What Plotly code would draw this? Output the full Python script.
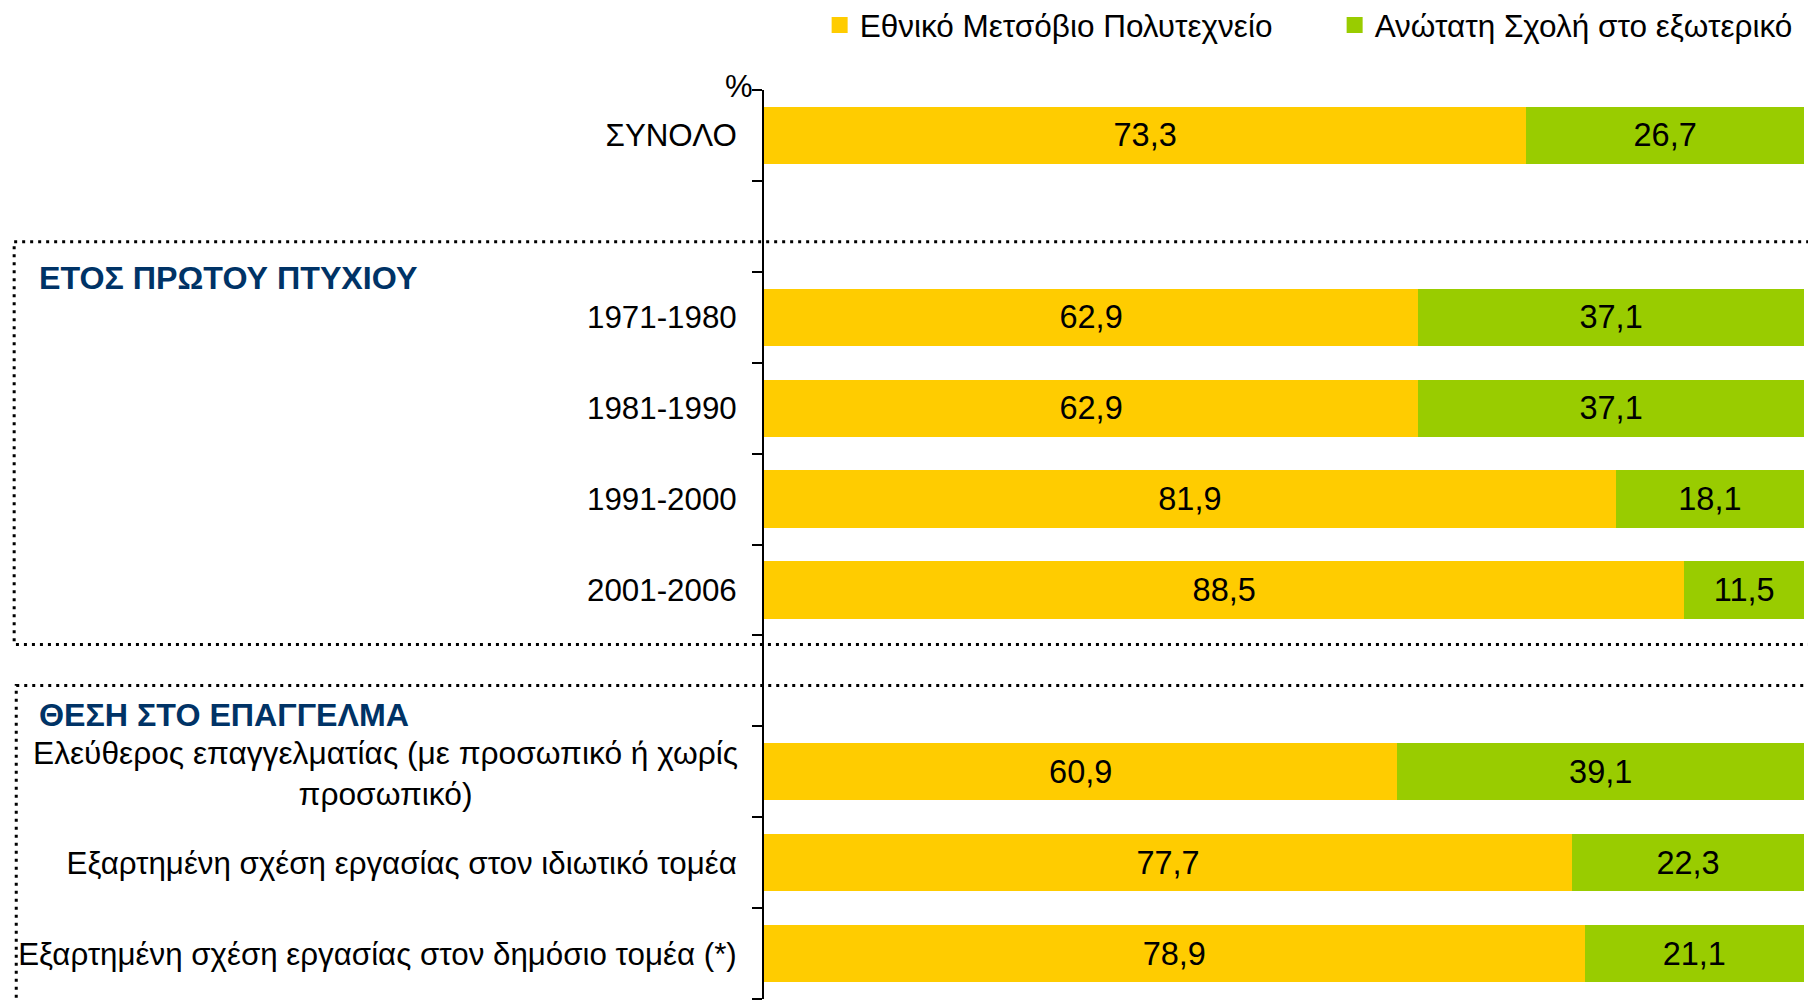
import plotly.graph_objects as go

# ---- data ----
categories = [
    "ΣΥΝΟΛΟ",
    " ",
    "1971-1980",
    "1981-1990",
    "1991-2000",
    "2001-2006",
    "  ",
    "Ελεύθερος επαγγελματίας (με προσωπικό ή χωρίς προσωπικό)",
    "Εξαρτημένη σχέση εργασίας στον ιδιωτικό τομέα",
    "Εξαρτημένη σχέση εργασίας στον δημόσιο τομέα (*)",
]
tick_labels = [
    "ΣΥΝΟΛΟ",
    "",
    "1971-1980",
    "1981-1990",
    "1991-2000",
    "2001-2006",
    "",
    "",
    "Εξαρτημένη σχέση εργασίας στον ιδιωτικό τομέα",
    "Εξαρτημένη σχέση εργασίας στον δημόσιο τομέα (*)",
]
two_line_label = "Ελεύθερος επαγγελματίας (με προσωπικό ή χωρίς<br>προσωπικό)"
series_names = ["Εθνικό Μετσόβιο Πολυτεχνείο", "Ανώτατη Σχολή στο εξωτερικό"]
emp_values = [73.3, None, 62.9, 62.9, 81.9, 88.5, None, 60.9, 77.7, 78.9]
abroad_values = [26.7, None, 37.1, 37.1, 18.1, 11.5, None, 39.1, 22.3, 21.1]
group_titles = ["ΕΤΟΣ ΠΡΩΤΟΥ ΠΤΥΧΙΟΥ", "ΘΕΣΗ ΣΤΟ ΕΠΑΓΓΕΛΜΑ"]

FONT = "Liberation Sans, Arial, sans-serif"
colors = ["#FFCC00", "#99CC00"]
LABEL_SIZE = 31.3

fig = go.Figure()
for name, vals, col in zip(series_names, [emp_values, abroad_values], colors):
    fig.add_trace(go.Bar(
        y=categories, x=vals, name=name, orientation="h",
        marker=dict(color=col, line=dict(width=0)),
        texttemplate="%{x:.1f}", textposition="inside",
        insidetextanchor="middle", constraintext="none",
        textfont=dict(family=FONT, size=32.5, color="black"),
        hoverinfo="skip", showlegend=False, legendgroup=name,
    ))
# legend entries (square swatches)
for name, col in zip(series_names, colors):
    fig.add_trace(go.Scatter(
        x=[None], y=[None], mode="markers", name=name, legendgroup=name,
        marker=dict(symbol="square", size=20, color=col),
        hoverinfo="skip", showlegend=True,
    ))

fig.update_layout(
    width=1808, height=994,
    margin=dict(l=756, r=12, t=82, b=3, autoexpand=False),
    barmode="stack", bargap=0.37,
    separators=",.",
    plot_bgcolor="white", paper_bgcolor="white",
    font=dict(family=FONT, size=31, color="black"),
    legend=dict(
        orientation="h", x=0.0535, xanchor="left", y=1.0715, yanchor="middle",
        font=dict(family=FONT, size=31.5, color="black"),
        bgcolor="rgba(0,0,0,0)", traceorder="normal",
        entrywidth=470, entrywidthmode="pixels", itemwidth=30,
    ),
    showlegend=True,
)
fig.update_xaxes(range=[0, 100], visible=False, fixedrange=True)
fig.update_yaxes(
    type="category", categoryorder="array", categoryarray=categories,
    range=[9.5, -0.5], autorange=False,
    tickmode="array", tickvals=categories, ticktext=tick_labels,
    tickson="boundaries", ticks="outside", ticklen=10, tickwidth=2, tickcolor="black",
    showline=True, linecolor="black", linewidth=2,
    showgrid=False, zeroline=False,
    ticklabelstandoff=19,
    tickfont=dict(family=FONT, size=LABEL_SIZE, color="black"),
)

# two-line centered label
fig.add_annotation(
    x=-0.023, xref="paper", xanchor="right",
    y=categories[7], yref="y", yanchor="middle", yshift=-2,
    text=two_line_label, align="center", showarrow=False,
    font=dict(family=FONT, size=31.7, color="black"),
)
# % unit label
fig.add_annotation(
    x=-0.009, xref="paper", xanchor="right",
    y=1.0034, yref="paper", yanchor="middle",
    text="%", showarrow=False,
    font=dict(family=FONT, size=31, color="black"),
)
# group titles
for title, ypos in zip(group_titles, [1.57, 6.38]):
    fig.add_annotation(
        x=-0.699, xref="paper", xanchor="left",
        y=ypos, yref="y", yanchor="middle",
        text="<b>" + title + "</b>", showarrow=False,
        font=dict(family=FONT, size=32.2, color="#003366"),
    )
# dotted group frames
for y0, y1, x0 in [(1.17, 5.6, -0.721), (6.05, 10.2, -0.719)]:
    fig.add_shape(
        type="rect", xref="paper", yref="y",
        x0=x0, x1=1.03, y0=y0, y1=y1,
        line=dict(color="black", width=3, dash="3px,5px"),
        layer="above",
    )

fig.write_html("out.html")
